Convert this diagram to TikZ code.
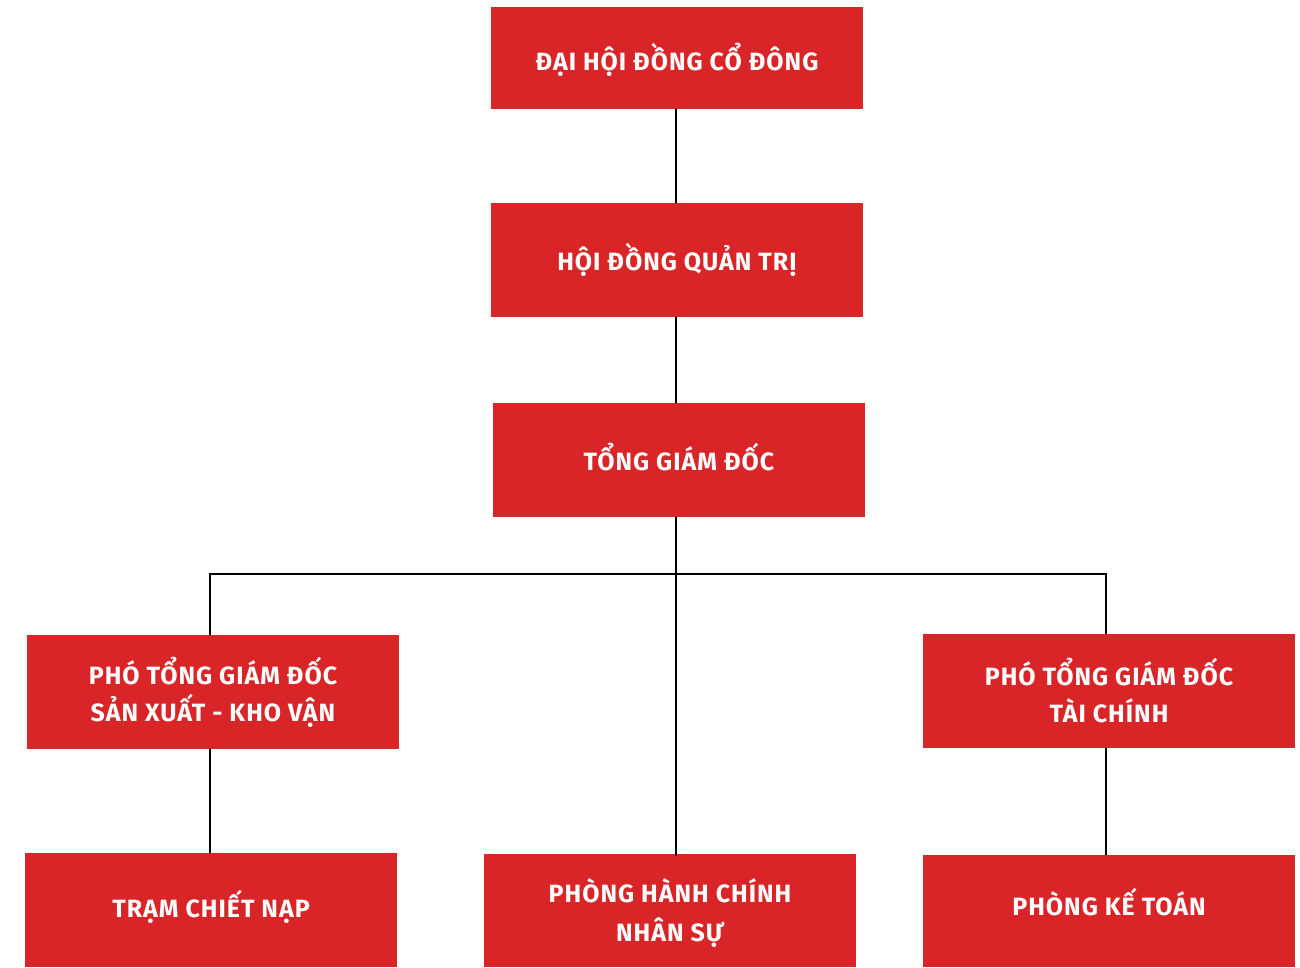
\documentclass[tikz,border=0pt]{standalone}
\usepackage{fontspec}
\setmainfont{Fira Sans}[LetterSpace=4]
\definecolor{boxred}{HTML}{D92528}
\newcommand{\shiftup}[2]{\raisebox{#1}[\height][\depth]{#2}}
\newcommand{\twolines}[2]{\begin{tabular}{@{}c@{}}#1\\#2\end{tabular}}
\begin{document}
\begin{tikzpicture}[x=1pt,y=-1pt,
  box/.style={fill=boxred,draw=none,inner sep=0pt,text=white,minimum width=372pt,
    font=\fontsize{25}{37}\selectfont\bfseries,align=center},
  link/.style={draw=black,line width=2pt}]
\useasboundingbox (0,0) rectangle (1300,967);
\node[box,minimum height=102pt] (dh) at (677,58) {\shiftup{-2pt}{ĐẠI HỘI ĐỒNG CỔ ĐÔNG}};
\node[box,minimum height=114pt] (hd) at (677,260) {HỘI ĐỒNG QUẢN TRỊ};
\node[box,minimum height=114pt] (tg) at (679,460) {\shiftup{3pt}{TỔNG GIÁM ĐỐC}};
\node[box,minimum height=114pt] (p1) at (213,692) {PHÓ TỔNG GIÁM ĐỐC\\SẢN XUẤT - KHO VẬN};
\node[box,minimum height=114pt] (p2) at (1109,691) {PHÓ TỔNG GIÁM ĐỐC\\TÀI CHÍNH};
\node[box,minimum height=114pt] (tc) at (211,910) {\shiftup{3pt}{TRẠM CHIẾT NẠP}};
\node[box,minimum height=113pt] (hc) at (670,910.5) {\shiftup{-4pt}{\fontsize{25}{39}\selectfont\twolines{PHÒNG HÀNH CHÍNH}{NHÂN SỰ}}};
\node[box,minimum height=112pt] (kt) at (1109,911) {\shiftup{9pt}{PHÒNG KẾ TOÁN}};
\coordinate (j) at (676,574);
\draw[link] (dh.south -| j) -- (hd.north -| j);
\draw[link] (hd.south -| j) -- (tg.north -| j);
\draw[link] (tg.south -| j) -- ([yshift=-2pt]hc.north -| j);
\draw[link] (p1.north -| 210,0) -- (j -| 210,0) -- (j -| 1106,0) -- (p2.north -| 1106,0);
\draw[link] (p1.south -| 210,0) -- (tc.north -| 210,0);
\draw[link] (p2.south -| 1106,0) -- (kt.north -| 1106,0);
\end{tikzpicture}
\end{document}
